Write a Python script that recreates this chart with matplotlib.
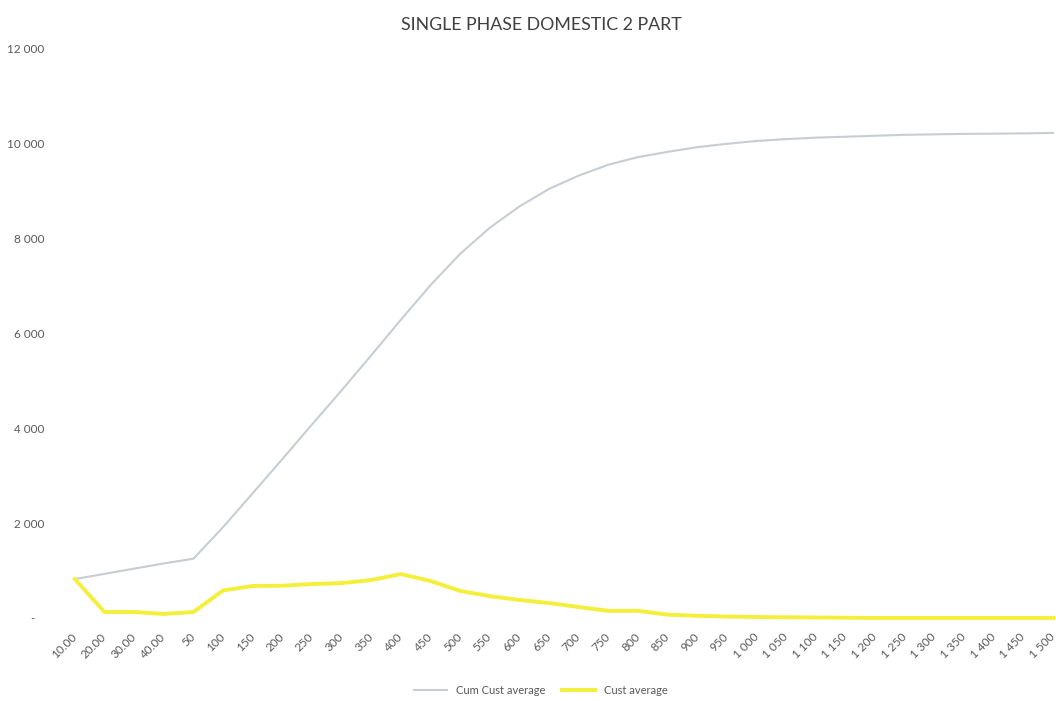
import matplotlib
matplotlib.use("Agg")
from matplotlib import pyplot as plt
import numpy as np

categories = ["10.00", "20.00", "30.00", "40.00"] + \
    ["{:,}".format(v).replace(",", " ") for v in range(50, 1501, 50)]

cum_cust_average = [820, 930, 1040, 1150, 1250, 1915, 2630, 3350, 4080, 4800,
                    5540, 6290, 7020, 7680, 8230, 8680, 9050, 9330, 9560, 9720,
                    9830, 9930, 10000, 10060, 10100, 10130, 10150, 10170, 10190,
                    10200, 10210, 10215, 10220, 10230]

cust_average = [820, 125, 125, 85, 125, 580, 675, 680, 715, 735,
                800, 925, 780, 570, 460, 380, 315, 230, 150, 150,
                70, 45, 30, 20, 15, 10, 5, 0, 0, 0,
                0, 0, 0, 0]

y_ticks = [0, 2000, 4000, 6000, 8000, 10000, 12000]
y_labels = ["-   ", "2 000", "4 000", "6 000", "8 000", "10 000", "12 000"]

plt.rcParams['font.family'] = ['Lato', 'DejaVu Sans']
txt = "#595959"

fig = plt.figure(figsize=(10.56, 7.01), dpi=100)
ax = fig.add_axes([60 / 1056, (701 - 622.7) / 701, 996 / 1056, (622.7 - 49) / 701])

x = np.arange(len(categories))
ax.plot(x, cum_cust_average, color="#C8CDD1", lw=1.5, label="Cum Cust average")
ax.plot(x, cust_average, color="#F3EF3A", lw=2.8, label="Cust average",
        solid_joinstyle="round")

ax.set_xlim(-0.5, len(categories) - 1 + 0.1)
ax.set_ylim(-100, 12000)
ax.set_yticks(y_ticks)
ax.set_yticklabels(y_labels, fontsize=8.5, color=txt)
ax.set_xticks(x)
ax.set_xticklabels(categories, fontsize=8.5, color=txt, rotation=45,
                   ha="right", va="center", rotation_mode="anchor")
ax.tick_params(axis="both", length=0)
ax.tick_params(axis="x", pad=9)
ax.tick_params(axis="y", pad=11)
for s in ax.spines.values():
    s.set_visible(False)

fig.text(541 / 1056, 1 - 25 / 701, "SINGLE PHASE DOMESTIC 2 PART",
         ha="center", va="center", fontsize=12.8, color="#404040")

fig.legend(loc="center", bbox_to_anchor=(541 / 1056, 1 - 690 / 701), ncol=2,
           frameon=False, fontsize=8, handlelength=3, columnspacing=1.5,
           labelcolor=txt)

fig.savefig("out.png", dpi=100)
